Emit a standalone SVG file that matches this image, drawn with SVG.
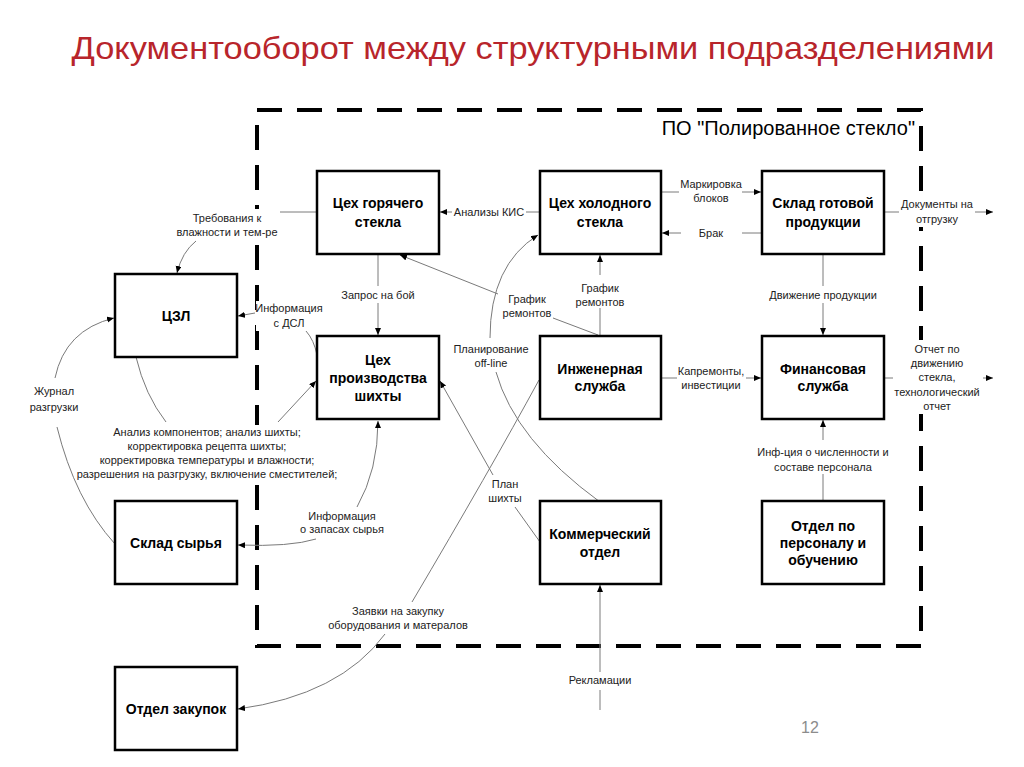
<svg xmlns="http://www.w3.org/2000/svg" width="1024" height="767" viewBox="0 0 1024 767">
<style>
.box{fill:#fff;stroke:#000;stroke-width:2.5}
.bt{font-family:"Liberation Sans",Arial,sans-serif;font-weight:bold;font-size:14px;fill:#000;text-anchor:middle}
.lb{font-family:"Liberation Sans",Arial,sans-serif;font-size:11px;fill:#222;text-anchor:middle}
.c{fill:none;stroke:#7a7a7a;stroke-width:1}
.bg{fill:#fff;stroke:none}
</style>
<defs>
<marker id="ah" markerWidth="8" markerHeight="7" refX="7" refY="3" orient="auto" markerUnits="userSpaceOnUse">
<path d="M0,0 L7,3 L0,6 z" fill="#000"/>
</marker>
</defs>
<rect width="1024" height="767" fill="#fff"/>
<text x="533" y="59" font-family="Liberation Sans,Arial,sans-serif" font-size="32" fill="#b8252b" text-anchor="middle" textLength="923" lengthAdjust="spacingAndGlyphs">Документооборот между структурными подразделениями</text>
<g id="border">
<rect x="257" y="110" width="664" height="536" fill="none" stroke="#000" stroke-width="4" stroke-dasharray="25 15"/>
<text x="915" y="135" font-family="Liberation Sans,Arial,sans-serif" font-size="20" fill="#000" text-anchor="end">ПО "Полированное стекло"</text>
</g>
<g id="label-backgrounds">
<rect class="bg" x="172" y="209" width="110" height="31"/>
<rect class="bg" x="256" y="301" width="70" height="30"/>
<rect class="bg" x="70" y="425" width="275" height="57"/>
<rect class="bg" x="899" y="199" width="77" height="28"/>
<rect class="bg" x="893" y="340" width="89" height="74"/>
</g>
<g id="connectors">
<line class="c" x1="540" y1="212" x2="526" y2="212"/>
<line class="c" x1="452" y1="212" x2="440" y2="212" marker-end="url(#ah)"/>
<text class="lb" x="489" y="216">Анализы КИС</text>
<line class="c" x1="661" y1="192" x2="679" y2="192"/>
<line class="c" x1="742" y1="192" x2="761" y2="192" marker-end="url(#ah)"/>
<text class="lb" x="711" y="188">Маркировка</text>
<text class="lb" x="711" y="202">блоков</text>
<line class="c" x1="762" y1="233" x2="742" y2="233"/>
<line class="c" x1="681" y1="233" x2="662" y2="233" marker-end="url(#ah)"/>
<text class="lb" x="711" y="237">Брак</text>
<line class="c" x1="884" y1="212" x2="899" y2="212"/>
<line class="c" x1="975" y1="212" x2="993" y2="212" marker-end="url(#ah)"/>
<text class="lb" x="937" y="208">Документы на</text>
<text class="lb" x="937" y="223">отгрузку</text>
<line class="c" x1="317" y1="212" x2="280" y2="212"/>
<path class="c" d="M196,241 Q182,252 177,273" marker-end="url(#ah)"/>
<text class="lb" x="227" y="222">Требования к</text>
<text class="lb" x="227" y="236">влажности и тем-ре</text>
<line class="c" x1="255" y1="313" x2="238" y2="316" marker-end="url(#ah)"/>
<path class="c" d="M306,331 Q314,340 317,355"/>
<text class="lb" x="289" y="312">Информация</text>
<text class="lb" x="289" y="327">с ДСЛ</text>
<line class="c" x1="378" y1="254" x2="378" y2="286"/>
<line class="c" x1="378" y1="303" x2="378" y2="335" marker-end="url(#ah)"/>
<text class="lb" x="378" y="299">Запрос на бой</text>
<path class="c" d="M136,357 Q145,395 166,422"/>
<line class="c" x1="278" y1="422" x2="316" y2="381" marker-end="url(#ah)"/>
<text class="lb" x="207" y="436">Анализ компонентов; анализ шихты;</text>
<text class="lb" x="207" y="450">корректировка рецепта шихты;</text>
<text class="lb" x="207" y="464">корректировка температуры и влажности;</text>
<text class="lb" x="207" y="478">разрешения на разгрузку, включение сместителей;</text>
<path class="c" d="M55,378 Q65,330 114,318" marker-end="url(#ah)"/>
<path class="c" d="M57,427 Q75,500 115,544"/>
<text class="lb" x="54" y="395">Журнал</text>
<text class="lb" x="54" y="411">разгрузки</text>
<path class="c" d="M357,507 Q378,470 378,421" marker-end="url(#ah)"/>
<path class="c" d="M316,539 Q290,547 238,545" marker-end="url(#ah)"/>
<text class="lb" x="342" y="520">Информация</text>
<text class="lb" x="342" y="533">о запасах сырья</text>
<line class="c" x1="600" y1="336" x2="600" y2="308"/>
<line class="c" x1="600" y1="275" x2="600" y2="255" marker-end="url(#ah)"/>
<text class="lb" x="600" y="292">График</text>
<text class="lb" x="600" y="306">ремонтов</text>
<line class="c" x1="598" y1="335" x2="553" y2="318"/>
<line class="c" x1="498" y1="294" x2="400" y2="255" marker-end="url(#ah)"/>
<text class="lb" x="527" y="303">График</text>
<text class="lb" x="527" y="317">ремонтов</text>
<path class="c" d="M490,338 Q490,265 538,235" marker-end="url(#ah)"/>
<path class="c" d="M496,372 Q515,440 600,502"/>
<text class="lb" x="491" y="353">Планирование</text>
<text class="lb" x="491" y="367">off-line</text>
<line class="c" x1="493" y1="475" x2="440" y2="381" marker-end="url(#ah)"/>
<line class="c" x1="515" y1="507" x2="540" y2="542"/>
<text class="lb" x="505" y="488">План</text>
<text class="lb" x="505" y="502">шихты</text>
<path class="c" d="M539,380 Q490,470 412,602"/>
<path class="c" d="M385,634 Q340,695 238,709" marker-end="url(#ah)"/>
<text class="lb" x="398" y="615">Заявки на закупку</text>
<text class="lb" x="398" y="629">оборудования и матералов</text>
<line class="c" x1="661" y1="378" x2="677" y2="378"/>
<line class="c" x1="746" y1="378" x2="761" y2="378" marker-end="url(#ah)"/>
<text class="lb" x="711" y="375">Капремонты,</text>
<text class="lb" x="711" y="389">инвестиции</text>
<line class="c" x1="823" y1="254" x2="823" y2="286"/>
<line class="c" x1="823" y1="303" x2="823" y2="335" marker-end="url(#ah)"/>
<text class="lb" x="823" y="299">Движение продукции</text>
<line class="c" x1="884" y1="378" x2="893" y2="378"/>
<line class="c" x1="983" y1="378" x2="993" y2="378" marker-end="url(#ah)"/>
<text class="lb" x="937" y="353">Отчет по</text>
<text class="lb" x="937" y="367">движению</text>
<text class="lb" x="937" y="381">стекла,</text>
<text class="lb" x="937" y="396">технологический</text>
<text class="lb" x="937" y="410">отчет</text>
<line class="c" x1="823" y1="502" x2="823" y2="474"/>
<line class="c" x1="823" y1="440" x2="823" y2="420" marker-end="url(#ah)"/>
<text class="lb" x="823" y="456">Инф-ция о численности и</text>
<text class="lb" x="823" y="471">составе персонала</text>
<line class="c" x1="600" y1="710" x2="600" y2="690"/>
<line class="c" x1="600" y1="672" x2="600" y2="585" marker-end="url(#ah)"/>
<text class="lb" x="600" y="684">Рекламации</text>
</g>
<g id="hot"><rect class="box" x="317" y="171" width="122" height="83"/><text class="bt" x="378" y="208">Цех горячего</text><text class="bt" x="378" y="227">стекла</text></g>
<g id="cold"><rect class="box" x="540" y="171" width="121" height="83"/><text class="bt" x="600" y="208">Цех холодного</text><text class="bt" x="600" y="227">стекла</text></g>
<g id="warehouse"><rect class="box" x="762" y="171" width="122" height="83"/><text class="bt" x="823" y="208">Склад готовой</text><text class="bt" x="823" y="227">продукции</text></g>
<g id="czl"><rect class="box" x="115" y="274" width="122" height="83"/><text class="bt" x="176" y="321">ЦЗЛ</text></g>
<g id="batch"><rect class="box" x="317" y="336" width="122" height="83"/><text class="bt" x="378" y="365">Цех</text><text class="bt" x="378" y="383">производства</text><text class="bt" x="378" y="401">шихты</text></g>
<g id="eng"><rect class="box" x="540" y="336" width="121" height="83"/><text class="bt" x="600" y="374">Инженерная</text><text class="bt" x="600" y="391">служба</text></g>
<g id="fin"><rect class="box" x="762" y="336" width="122" height="83"/><text class="bt" x="823" y="374">Финансовая</text><text class="bt" x="823" y="391">служба</text></g>
<g id="raw"><rect class="box" x="115" y="501" width="122" height="83"/><text class="bt" x="176" y="548">Склад сырья</text></g>
<g id="comm"><rect class="box" x="540" y="501" width="121" height="83"/><text class="bt" x="600" y="539">Коммерческий</text><text class="bt" x="600" y="557">отдел</text></g>
<g id="hr"><rect class="box" x="762" y="501" width="122" height="83"/><text class="bt" x="823" y="531">Отдел по</text><text class="bt" x="823" y="548">персоналу и</text><text class="bt" x="823" y="565">обучению</text></g>
<g id="purchase"><rect class="box" x="115" y="667" width="122" height="83"/><text class="bt" x="176" y="714">Отдел закупок</text></g>
<text x="810" y="733" font-family="Liberation Sans,Arial,sans-serif" font-size="16" fill="#8c8c8c" text-anchor="middle">12</text>
</svg>
